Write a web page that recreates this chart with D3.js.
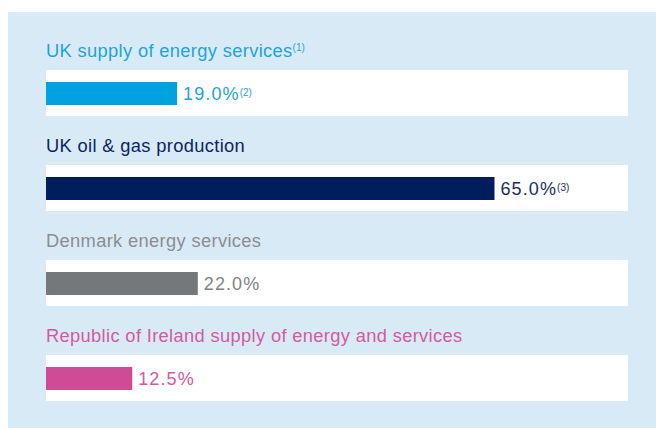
<!DOCTYPE html>
<html>
<meta charset="utf-8">
<style>
body{
	margin:0;
	padding:0;
	background:#fff;
}
svg text{
	font-family:"Liberation Sans", Arial, Helvetica, sans-serif;
}
.title{
	font-size:18.3px;
	letter-spacing:0.35px;
}
.value{
	font-size:18px;
	letter-spacing:1.1px;
}
</style>
<body>
<svg width="656" height="428"></svg>
<script src="https://d3js.org/d3.v7.min.js"></script>
<script>

// chart data
var categories = ["UK supply of energy services", "UK oil & gas production", "Denmark energy services", "Republic of Ireland supply of energy and services"];
var values = [19.0, 65.0, 22.0, 12.5];
var titleNotes = ["(1)", "", "", ""];
var valueNotes = ["(2)", "(3)", "", ""];

var barColors = ["#00a3e0", "#001e5c", "#75787b", "#cf4b96"];
var titleColors = ["#1ea3dc", "#0d2460", "#8a8d90", "#d35aa0"];
var valueColors = ["#1ea3dc", "#1a2d64", "#808386", "#d35aa0"];

var svg = d3.select("svg"),
    width = +svg.attr("width"),
    height = +svg.attr("height");

// light blue panel
svg.append("rect")
    .attr("x", 8)
    .attr("y", 12)
    .attr("width", width - 8)
    .attr("height", height - 12)
    .attr("fill", "#d9eaf7");

var x = d3.scaleLinear()
    .domain([0, 100])
    .range([46, 736]);

var y = d3.scaleBand()
    .domain(categories)
    .range([70, 401])
    .paddingInner(0.516)
    .paddingOuter(0);

var row = svg.selectAll(".row")
    .data(categories)
    .enter().append("g")
      .attr("class", "row")
      .attr("transform", function(d) { return "translate(0," + y(d) + ")"; });

// white strip behind each bar
row.append("rect")
    .attr("x", x(0))
    .attr("y", 0)
    .attr("width", 628 - x(0))
    .attr("height", y.bandwidth())
    .attr("fill", "#fff");

row.append("rect")
    .attr("x", x(0))
    .attr("y", 12)
    .attr("width", function(d, i) { return x(values[i]) - x(0); })
    .attr("height", 23)
    .attr("fill", function(d, i) { return barColors[i]; });

// category titles above the strip
var title = row.append("text")
    .attr("class", "title")
    .attr("x", x(0))
    .attr("y", -13)
    .attr("fill", function(d, i) { return titleColors[i]; })
    .text(function(d) { return d; });

title.filter(function(d, i) { return titleNotes[i]; })
  .append("tspan")
    .attr("dy", -6)
    .attr("dx", 0)
    .style("font-size", "10px")
    .style("letter-spacing", "0px")
    .text(function(d) { return titleNotes[categories.indexOf(d)]; });

var value = row.append("text")
    .attr("class", "value")
    .attr("x", function(d, i) { return x(values[i]) + 6; })
    .attr("y", 12 + 23 / 2)
    .attr("dy", "0.36em")
    .attr("fill", function(d, i) { return valueColors[i]; })
    .text(function(d, i) { return values[i].toFixed(1) + "%"; });

value.filter(function(d, i) { return valueNotes[i]; })
  .append("tspan")
    .attr("dy", "-0.4em")
    .style("font-size", "10px")
    .style("letter-spacing", "0px")
    .text(function(d) { return valueNotes[categories.indexOf(d)]; });

</script>
</body>
</html>
